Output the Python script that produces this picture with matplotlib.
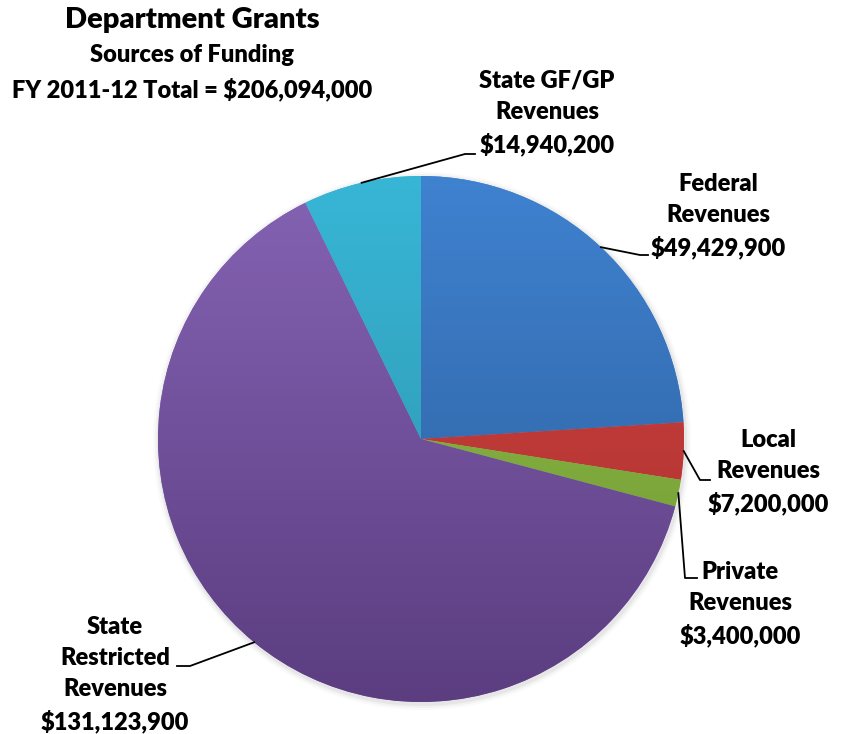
import numpy as np
import matplotlib.pyplot as plt
from matplotlib.colors import LinearSegmentedColormap
from matplotlib.patches import Circle

plt.rcParams['font.family'] = ['Lato', 'DejaVu Sans']

# data
labels = ["Federal\nRevenues", "Local\nRevenues", "Private\nRevenues",
          "State\nRestricted\nRevenues", "State GF/GP\nRevenues"]
values = [49429900, 7200000, 3400000, 131123900, 14940200]
total_label = "FY 2011-12 Total = $206,094,000"

# light (top) -> dark (bottom) for each slice
top_colors = ["#3f82d0", "#d44542", "#95c24c", "#8563b4", "#38b6d6"]
bot_colors = ["#2b5b97", "#a52e2c", "#6c9530", "#5b3d80", "#2b8fa8"]

W, H = 841, 734
fig = plt.figure(figsize=(W / 100, H / 100), dpi=100)
ax = fig.add_axes([0, 0, 1, 1])

cx, cy, r = 421, H - 439, 263

# soft shadow
for k, a in [(6, 0.04), (4, 0.06), (2, 0.10)]:
    ax.add_patch(Circle((cx + 1, cy - 2), r + k, color="#808080", alpha=a, lw=0, zorder=0))

wedges, _ = ax.pie(values, startangle=90, counterclock=False, center=(cx, cy),
                   radius=r, colors=top_colors, wedgeprops=dict(linewidth=0))

grad = np.linspace(0, 1, 256).reshape(-1, 1)
for w, c1, c2 in zip(wedges, top_colors, bot_colors):
    cmap = LinearSegmentedColormap.from_list("g", [c1, c2])
    im = ax.imshow(grad, cmap=cmap, extent=(cx - r, cx + r, cy - r, cy + r),
                   origin="upper", aspect="auto", zorder=2)
    im.set_clip_path(w)

# label layout: text center, line elbow, line end (pixel coords from top)
text_pos = [(718, 216), (768, 472), (740, 604), (115, 675), (547, 113)]
elbows = [(640, 255), (700, 480), (685, 578), (190, 666), (465, 154)]
ends = [(648, 255), (710, 480), (697, 578), (177, 666), (475, 154)]

for w, lab, v, tp, el, en in zip(wedges, labels, values, text_pos, elbows, ends):
    ang = np.deg2rad((w.theta1 + w.theta2) / 2)
    sx, sy = cx + r * np.cos(ang), cy + r * np.sin(ang)
    ax.plot([sx, el[0], en[0]], [sy, H - el[1], H - en[1]], color="black", lw=1.3, zorder=5)
    ax.text(tp[0], H - tp[1], lab + "\n$" + f"{v:,}", ha="center", va="center",
            fontsize=17, fontweight="heavy", linespacing=1.5)

ax.text(192, H - 20, "Department Grants", ha="center", va="center", fontsize=21, fontweight="heavy")
ax.text(192, H - 55, "Sources of Funding", ha="center", va="center", fontsize=17, fontweight="heavy")
ax.text(192, H - 89, total_label, ha="center", va="center", fontsize=17, fontweight="heavy")

ax.set_xlim(0, W)
ax.set_ylim(0, H)
ax.set_aspect("equal")
ax.axis("off")

fig.savefig("out.png", dpi=100)
